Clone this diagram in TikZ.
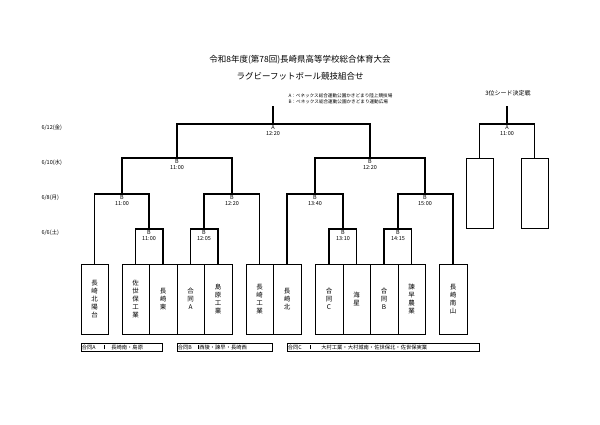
\documentclass[tikz,border=0pt]{standalone}
\usepackage{fontspec}
\newfontfamily\jp{Noto Sans CJK JP}
\usetikzlibrary{positioning,calc}

\begin{document}
\begin{tikzpicture}[x=1pt, y=-1pt,
    team/.style={draw, line width=0.5pt, minimum width=27.5pt, minimum height=70pt, inner sep=0pt, font=\jp\fontsize{6.5}{8}\selectfont, align=center},
    seed/.style={draw, line width=0.5pt, minimum width=27pt, minimum height=70pt, inner sep=0pt},
    tie/.style={line width=1.1pt},
    slot/.style={font=\jp\fontsize{5.5}{6.3}\selectfont, align=center, inner sep=0.5pt, below},
    day/.style={font=\jp\fontsize{5.5}{6}\selectfont, anchor=west},
    note/.style={draw, line width=0.5pt, font=\jp\fontsize{5.3}{6}\selectfont, inner sep=0.6pt, minimum height=7.5pt, anchor=west, align=left}
]
    \useasboundingbox (0,0) rectangle (600,424);

    % title
    \node[font=\jp\fontsize{8.5}{10}\selectfont] (t1) at (300,60) {令和8年度(第78回)長崎県高等学校総合体育大会};
    \node[font=\jp\fontsize{8.5}{10}\selectfont] (t2) at (300,76) {ラグビーフットボール競技組合せ};
    \node[font=\jp\fontsize{4.6}{6}\selectfont, anchor=west, align=left] (venue) at (285,99) {A：ベネックス総合運動公園かきどまり陸上競技場\\B：ベネックス総合運動公園かきどまり運動広場};
    \node[font=\jp\fontsize{6}{7}\selectfont] (third) at (508,93) {3位シード決定戦};

    % days
    \node[day] (d1) at (38,128) {6/12(金)};
    \node[day] (d2) at (38,163) {6/10(水)};
    \node[day] (d3) at (38,198) {6/8(月)};
    \node[day] (d4) at (38,233) {6/6(土)};

    % teams
    \node[team] (b1)  at (94.5,299)  {長\\崎\\北\\陽\\台};
    \node[team] (b2)  at (135.5,299) {佐\\世\\保\\工\\業};
    \node[team] (b3)  at (163,299)   {長\\崎\\東};
    \node[team] (b4)  at (190.5,299) {合\\同\\A};
    \node[team] (b5)  at (218,299)   {島\\原\\工\\業};
    \node[team] (b6)  at (259.5,299) {長\\崎\\工\\業};
    \node[team] (b7)  at (287,299)   {長\\崎\\北};
    \node[team] (b8)  at (329,299)   {合\\同\\C};
    \node[team] (b9)  at (356.5,299) {海\\星};
    \node[team] (b10) at (384,299)   {合\\同\\B};
    \node[team] (b11) at (411.5,299) {諫\\早\\農\\業};
    \node[team] (b12) at (453,299)   {長\\崎\\南\\山};
    \node[seed] (s1) at (479.5,193) {};
    \node[seed] (s2) at (534.5,193) {};

    % 6/6
    \draw[tie] (b2.north) |- (149,229) node[slot] (m1) {B\\11:00} -| (b3.north);
    \draw[tie] (b4.north) |- (204,229) node[slot] (m2) {B\\12:05} -| (b5.north);
    \draw[tie] (b8.north) |- (343,229) node[slot] (m3) {B\\13:10} -| (b9.north);
    \draw[tie] (b10.north) |- (398,229) node[slot] (m4) {B\\14:15} -| (b11.north);
    % 6/8
    \draw[tie] (b1.north) |- (122,194) node[slot] (m5) {B\\11:00} -| (149,229);
    \draw[tie] (204,229) |- (232,194) node[slot] (m6) {B\\12:20} -| (b6.north);
    \draw[tie] (b7.north) |- (315,194) node[slot] (m7) {B\\13:40} -| (343,229);
    \draw[tie] (398,229) |- (425,194) node[slot] (m8) {B\\15:00} -| (b12.north);
    % 6/10
    \draw[tie] (122,194) |- (177,158) node[slot] (m9) {B\\11:00} -| (232,194);
    \draw[tie] (315,194) |- (370,158) node[slot] (m10) {B\\12:20} -| (425,194);
    % 6/12
    \draw[tie] (177,158) |- (273,124) node[slot] (m11) {A\\12:20} -| (370,158);
    \draw[tie] (273,124) -- (273,106);
    \draw[tie] (s1.north) |- (507,124) node[slot] (m12) {A\\11:00} -| (s2.north);
    \draw[tie] (507,124) -- (507,106);

    % joint teams
    \node[note, text width=80pt] (n1) at (81,347) {\makebox[22pt][l]{合同A}\vrule\hspace{7pt}長崎南・島原};
    \node[note, text width=94pt] (n2) at (177,347) {\makebox[20pt][l]{合同B}\vrule\hspace{1pt}西陵・諫早・長崎西};
    \node[note, text width=191pt] (n3) at (287,347) {\makebox[22pt][l]{合同C}\vrule\hspace{11pt}大村工業・大村城南・佐世保北・佐世保実業};
\end{tikzpicture}
\end{document}
